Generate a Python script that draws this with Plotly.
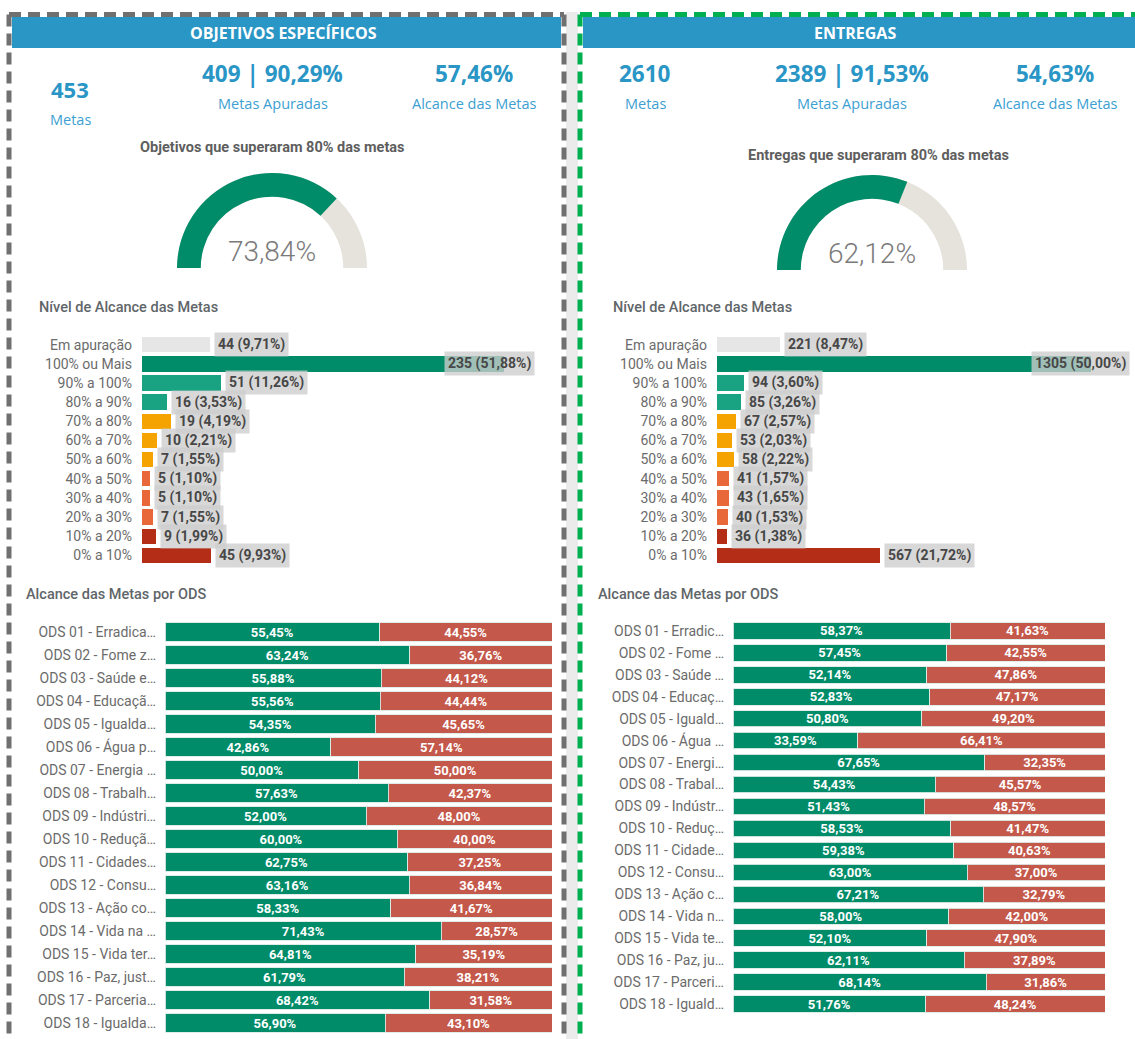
import plotly.graph_objects as go

W, H = 1135, 1039

# ---------------- DATA ----------------
obj_metas = 453
obj_apuradas = 409
obj_apuradas_pct = 90.29
obj_alcance = 57.46
obj_gauge = 73.84

ent_metas = 2610
ent_apuradas = 2389
ent_apuradas_pct = 91.53
ent_alcance = 54.63
ent_gauge = 62.12

niveis = ["Em apuração", "100% ou Mais", "90% a 100%", "80% a 90%", "70% a 80%",
          "60% a 70%", "50% a 60%", "40% a 50%", "30% a 40%", "20% a 30%",
          "10% a 20%", "0% a 10%"]
nivel_colors = ["#E6E6E6", "#008C69", "#1AA383", "#1AA383", "#F5A300", "#F5A300",
                "#F5A300", "#E8683A", "#E8683A", "#E8683A", "#B32D17", "#B32D17"]

obj_nivel_count = [44, 235, 51, 16, 19, 10, 7, 5, 5, 7, 9, 45]
obj_nivel_pct = [9.71, 51.88, 11.26, 3.53, 4.19, 2.21, 1.55, 1.10, 1.10, 1.55, 1.99, 9.93]
ent_nivel_count = [221, 1305, 94, 85, 67, 53, 58, 41, 43, 40, 36, 567]
ent_nivel_pct = [8.47, 50.00, 3.60, 3.26, 2.57, 2.03, 2.22, 1.57, 1.65, 1.53, 1.38, 21.72]

obj_ods_labels = ["ODS 01 - Erradica…", "ODS 02 - Fome z…", "ODS 03 - Saúde e…",
                  "ODS 04 - Educaçã…", "ODS 05 - Igualda…", "ODS 06 - Água p…",
                  "ODS 07 - Energia …", "ODS 08 - Trabalh…", "ODS 09 - Indústri…",
                  "ODS 10 - Reduçã…", "ODS 11 - Cidades…", "ODS 12 - Consu…",
                  "ODS 13 - Ação co…", "ODS 14 - Vida na …", "ODS 15 - Vida ter…",
                  "ODS 16 - Paz, just…", "ODS 17 - Parceria…", "ODS 18 - Igualda…"]
obj_ods_sim = [55.45, 63.24, 55.88, 55.56, 54.35, 42.86, 50.00, 57.63, 52.00,
               60.00, 62.75, 63.16, 58.33, 71.43, 64.81, 61.79, 68.42, 56.90]
obj_ods_nao = [44.55, 36.76, 44.12, 44.44, 45.65, 57.14, 50.00, 42.37, 48.00,
               40.00, 37.25, 36.84, 41.67, 28.57, 35.19, 38.21, 31.58, 43.10]

ent_ods_labels = ["ODS 01 - Erradic…", "ODS 02 - Fome …", "ODS 03 - Saúde …",
                  "ODS 04 - Educaç…", "ODS 05 - Iguald…", "ODS 06 - Água …",
                  "ODS 07 - Energi…", "ODS 08 - Trabal…", "ODS 09 - Indústr…",
                  "ODS 10 - Reduç…", "ODS 11 - Cidade…", "ODS 12 - Consu…",
                  "ODS 13 - Ação c…", "ODS 14 - Vida n…", "ODS 15 - Vida te…",
                  "ODS 16 - Paz, ju…", "ODS 17 - Parceri…", "ODS 18 - Iguald…"]
ent_ods_sim = [58.37, 57.45, 52.14, 52.83, 50.80, 33.59, 67.65, 54.43, 51.43,
               58.53, 59.38, 63.00, 67.21, 58.00, 52.10, 62.11, 68.14, 51.76]
ent_ods_nao = [41.63, 42.55, 47.86, 47.17, 49.20, 66.41, 32.35, 45.57, 48.57,
               41.47, 40.63, 37.00, 32.79, 42.00, 47.90, 37.89, 31.86, 48.24]

# ---------------- STYLE ----------------
BLUE = "#2A96C6"
BLUE_LBL = "#3CA0D2"
GREEN = "#008C69"
RED = "#C4584A"
GAUGE_BG = "#E6E2DC"
DIN = "Roboto"
SEGOE = "Open Sans"


def px(x):
    return x / W


def py(y):
    return 1 - y / H


def fmt(v):
    return f"{v:.2f}".replace(".", ",")


fig = go.Figure()

# ---- Nível de Alcance bars ----
for ax, counts in (("", obj_nivel_count), ("2", ent_nivel_count)):
    fig.add_trace(go.Bar(
        orientation="h", x=counts, y=niveis, width=0.8,
        marker=dict(color=nivel_colors, line=dict(width=0)),
        xaxis="x" + ax, yaxis="y" + ax, hoverinfo="skip", showlegend=False))

# ---- ODS stacked bars ----
for ax, labels, sim, nao, bw in (("3", obj_ods_labels, obj_ods_sim, obj_ods_nao, 0.8),
                                 ("4", ent_ods_labels, ent_ods_sim, ent_ods_nao, 0.75)):
    for vals, col in ((sim, GREEN), (nao, RED)):
        fig.add_trace(go.Bar(
            orientation="h", x=vals, y=labels, width=bw,
            marker=dict(color=col, line=dict(color="rgba(220,235,230,0.9)", width=1)),
            text=[fmt(v) + "%" for v in vals], textposition="inside",
            insidetextanchor="middle", constraintext="none", textangle=0,
            textfont=dict(color="white", size=13, family=DIN, weight="bold"),
            xaxis="x" + ax, yaxis="y" + ax, hoverinfo="skip", showlegend=False))

# ---- Gauges ----
for val, cx, by in ((obj_gauge, 272, 268), (ent_gauge, 872, 270)):
    r = 95
    fig.add_trace(go.Indicator(
        mode="gauge+number", value=val,
        number=dict(suffix="%", valueformat=".2f",
                    font=dict(size=28, color="#7A7A7A", family=DIN, weight=300)),
        gauge=dict(shape="angular",
                   axis=dict(range=[0, 100], visible=False),
                   bar=dict(color=GREEN, thickness=1),
                   bgcolor=GAUGE_BG, borderwidth=0),
        domain=dict(x=[px(cx - r), px(cx + r)], y=[py(by), py(by - r)])))


# ---------------- AXES ----------------
def cat_axis(domain_px, labels, standoff, size, anchor):
    return dict(domain=[py(domain_px[1]), py(domain_px[0])], type="category",
                categoryorder="array", categoryarray=labels, autorange="reversed",
                showgrid=False, showline=False, zeroline=False, ticks="",
                tickfont=dict(size=size, color="#6B6B6B", family=DIN),
                ticklabelstandoff=standoff, fixedrange=True, anchor=anchor)


def val_axis(domain_px, rng, anchor):
    return dict(domain=[px(domain_px[0]), px(domain_px[1])], range=rng, visible=False,
                fixedrange=True, anchor=anchor)


fig.update_layout(
    width=W, height=H, margin=dict(l=0, r=0, t=0, b=0),
    paper_bgcolor="white", plot_bgcolor="rgba(0,0,0,0)",
    barmode="stack", separators=",.", showlegend=False,
    font=dict(family=DIN),
    xaxis=val_axis((142, 552), [0, 410 / 1.54], "y"),
    yaxis=cat_axis((332.2, 567.8), niveis, 9, 14, "x"),
    xaxis2=val_axis((717, 1125), [0, 408 / 0.2866], "y2"),
    yaxis2=cat_axis((332.2, 567.8), niveis, 9, 14, "x2"),
    xaxis3=val_axis((165, 552), [0, 100], "y3"),
    yaxis3=cat_axis((620.5, 1034.5), obj_ods_labels, 8, 14, "x3"),
    xaxis4=val_axis((733, 1105), [0, 100], "y4"),
    yaxis4=cat_axis((620.0, 1015.0), ent_ods_labels, 8, 14, "x4"),
)

# ---------------- SHAPES ----------------
shapes = []
shapes.append(dict(type="rect", xref="paper", yref="paper", x0=px(566), x1=px(578),
                   y0=0, y1=py(12), fillcolor="#EBEBEB", line=dict(width=0), layer="below"))
shapes.append(dict(type="rect", xref="paper", yref="paper", x0=px(12), x1=px(561),
                   y0=py(48), y1=py(17), fillcolor=BLUE, line=dict(width=0)))
shapes.append(dict(type="rect", xref="paper", yref="paper", x0=px(583), x1=px(1135),
                   y0=py(48), y1=py(17), fillcolor=BLUE, line=dict(width=0)))
gray_dash = dict(color="#707070", width=5, dash="12px,7px")
green_dash = dict(color="#00B050", width=5, dash="12px,7px")
shapes += [
    dict(type="line", xref="paper", yref="paper", x0=px(9), x1=px(564), y0=py(14.5), y1=py(14.5), line=gray_dash),
    dict(type="line", xref="paper", yref="paper", x0=px(9), x1=px(9), y0=py(14.5), y1=0, line=gray_dash),
    dict(type="line", xref="paper", yref="paper", x0=px(564), x1=px(564), y0=py(14.5), y1=0, line=gray_dash),
    dict(type="line", xref="paper", yref="paper", x0=px(580), x1=px(1135), y0=py(14.5), y1=py(14.5), line=green_dash),
    dict(type="line", xref="paper", yref="paper", x0=px(580), x1=px(580), y0=py(14.5), y1=0, line=green_dash),
]
fig.update_layout(shapes=shapes)

# ---------------- ANNOTATIONS ----------------
ann = []


def txt(x, y, s, size, color, family=DIN, weight="normal", xanchor="center"):
    ann.append(dict(x=px(x), y=py(y), xref="paper", yref="paper", text=s, showarrow=False,
                    xanchor=xanchor, yanchor="middle",
                    font=dict(size=size, color=color, family=family, weight=weight)))


txt(283, 33, "OBJETIVOS ESPECÍFICOS", 16, "white", SEGOE, "bold")
txt(855, 33, "ENTREGAS", 16, "white", SEGOE, "bold")

# KPIs
txt(70, 89, f"{obj_metas}", 22, BLUE, SEGOE, "bold")
txt(70, 119, "Metas", 14.5, BLUE_LBL, SEGOE)
txt(272, 74, f"{obj_apuradas} | {fmt(obj_apuradas_pct)}%", 22.5, BLUE, SEGOE, "bold")
txt(273, 104, "Metas Apuradas", 14.5, BLUE_LBL, SEGOE)
txt(474, 74, f"{fmt(obj_alcance)}%", 22.5, BLUE, SEGOE, "bold")
txt(474, 104, "Alcance das Metas", 14.5, BLUE_LBL, SEGOE)

txt(645, 74, f"{ent_metas}", 22.5, BLUE, SEGOE, "bold")
txt(645, 104, "Metas", 14.5, BLUE_LBL, SEGOE)
txt(852, 74, f"{ent_apuradas} | {fmt(ent_apuradas_pct)}%", 22.5, BLUE, SEGOE, "bold")
txt(852, 104, "Metas Apuradas", 14.5, BLUE_LBL, SEGOE)
txt(1055, 74, f"{fmt(ent_alcance)}%", 22.5, BLUE, SEGOE, "bold")
txt(1055, 104, "Alcance das Metas", 14.5, BLUE_LBL, SEGOE)

# gauge titles
txt(272, 147, "Objetivos que superaram 80% das metas", 14.5, "#5E5E5E", DIN, "bold")
txt(878, 155, "Entregas que superaram 80% das metas", 14.5, "#5E5E5E", DIN, "bold")

# section titles
txt(37, 307, "Nível de Alcance das Metas", 14.5, "#5F6669", DIN, 500, "left")
txt(611, 307, "Nível de Alcance das Metas", 14.5, "#5F6669", DIN, 500, "left")
txt(24, 594, "Alcance das Metas por ODS", 14.5, "#5F6669", DIN, 500, "left")
txt(596, 594, "Alcance das Metas por ODS", 14.5, "#5F6669", DIN, 500, "left")

# data labels for Nível bars
for ax, counts, pcts, big_shift in (("", obj_nivel_count, obj_nivel_pct, 31),
                                    ("2", ent_nivel_count, ent_nivel_pct, 39)):
    mx = max(counts)
    for c, p, lab in zip(counts, pcts, niveis):
        is_max = c == mx
        ann.append(dict(
            x=c, y=lab, xref="x" + ax, yref="y" + ax, showarrow=False,
            text=f"{c} ({fmt(p)}%)",
            xanchor="right" if is_max else "left",
            xshift=big_shift if is_max else 4, yanchor="middle",
            bgcolor="rgba(205,205,205,0.78)", borderpad=3,
            font=dict(size=14, color="#474747", family=DIN, weight="bold")))

fig.update_layout(annotations=ann)

fig.write_html("out.html", config={"displayModeBar": False},
               post_script="document.body.style.margin='0';document.body.style.overflow='hidden';")
